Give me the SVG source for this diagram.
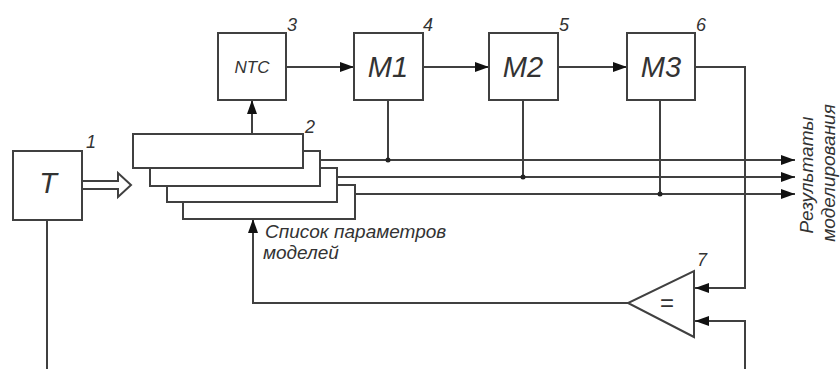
<svg xmlns="http://www.w3.org/2000/svg" width="840" height="369" viewBox="0 0 840 369">
<defs>
<style>
.box{fill:#fff;stroke:#404040;stroke-width:2}
.ln{fill:none;stroke:#404040;stroke-width:2}
.t{font-family:"Liberation Sans",Arial,sans-serif;font-style:italic;fill:#333}
.num{font-size:18px}
.big{font-size:29px}
.lab{font-size:19px}
.dot{fill:#222}
</style>
<marker id="ah" viewBox="0 0 14 10" refX="14" refY="5" markerWidth="14" markerHeight="10" markerUnits="userSpaceOnUse" orient="auto">
<path d="M0,0 L14,5 L0,10 Z" fill="#111"/>
</marker>
</defs>
<rect width="840" height="369" fill="#fff"/>

<g id="connectors">
<polyline class="ln" points="47,220 47,369"/>
<polyline class="ln" points="252,134 252,100" marker-end="url(#ah)"/>
<polyline class="ln" points="286,67 354,67" marker-end="url(#ah)"/>
<polyline class="ln" points="423,67 489,67" marker-end="url(#ah)"/>
<polyline class="ln" points="558,67 627,67" marker-end="url(#ah)"/>
<polyline class="ln" points="320,160 795,160" marker-end="url(#ah)"/>
<polyline class="ln" points="337,177 795,177" marker-end="url(#ah)"/>
<polyline class="ln" points="355,194 795,194" marker-end="url(#ah)"/>
<polyline class="ln" points="388,100 388,160"/>
<polyline class="ln" points="523,100 523,177"/>
<polyline class="ln" points="660,100 660,194"/>
<circle class="dot" cx="388" cy="160" r="2.5"/>
<circle class="dot" cx="523" cy="177" r="2.5"/>
<circle class="dot" cx="660" cy="194" r="2.5"/>
<polyline class="ln" points="695,67 745,67 745,288 695,288" marker-end="url(#ah)"/>
<polyline class="ln" points="745,369 745,321 695,321" marker-end="url(#ah)"/>
<polyline class="ln" points="628,303 253,303 253,219" marker-end="url(#ah)"/>
</g>

<g id="node1">
<rect class="box" x="13" y="151" width="69" height="69"/>
<text class="t big" x="48" y="193" text-anchor="middle">T</text>
<text class="t num" x="86" y="148">1</text>
<polygon class="box" points="82,181 118,181 118,173 131,185 118,197 118,189 82,189"/>
</g>

<g id="node2">
<rect class="box" x="183" y="185" width="172" height="34"/>
<rect class="box" x="167" y="168" width="170" height="34"/>
<rect class="box" x="150" y="151" width="170" height="35"/>
<rect class="box" x="133" y="134" width="170" height="34"/>
<text class="t num" x="305" y="133">2</text>
<text class="t lab" x="265" y="238">Список параметров</text>
<text class="t lab" x="263" y="259">моделей</text>
</g>

<g id="node3">
<rect class="box" x="218" y="33" width="68" height="67"/>
<text class="t" font-size="17" x="252" y="73" text-anchor="middle">NTC</text>
<text class="t num" x="287" y="31">3</text>
</g>

<g id="node4">
<rect class="box" x="354" y="33" width="69" height="67"/>
<text class="t big" x="388" y="77" text-anchor="middle">M1</text>
<text class="t num" x="423" y="31">4</text>
</g>

<g id="node5">
<rect class="box" x="489" y="33" width="69" height="67"/>
<text class="t big" x="523" y="77" text-anchor="middle">M2</text>
<text class="t num" x="559" y="31">5</text>
</g>

<g id="node6">
<rect class="box" x="627" y="33" width="68" height="67"/>
<text class="t big" x="661" y="77" text-anchor="middle">M3</text>
<text class="t num" x="696" y="31">6</text>
</g>

<g id="node7">
<polygon class="box" points="694,271 694,337 628,303"/>
<text x="667" y="311" text-anchor="middle" font-family="Liberation Sans,Arial,sans-serif" font-size="24" fill="#333">=</text>
<text class="t num" x="697" y="266">7</text>
</g>

<g id="results">
<text class="t lab" transform="translate(813,175) rotate(-90)" text-anchor="middle">Результаты</text>
<text class="t lab" transform="translate(835,173) rotate(-90)" text-anchor="middle">моделирования</text>
</g>
</svg>
